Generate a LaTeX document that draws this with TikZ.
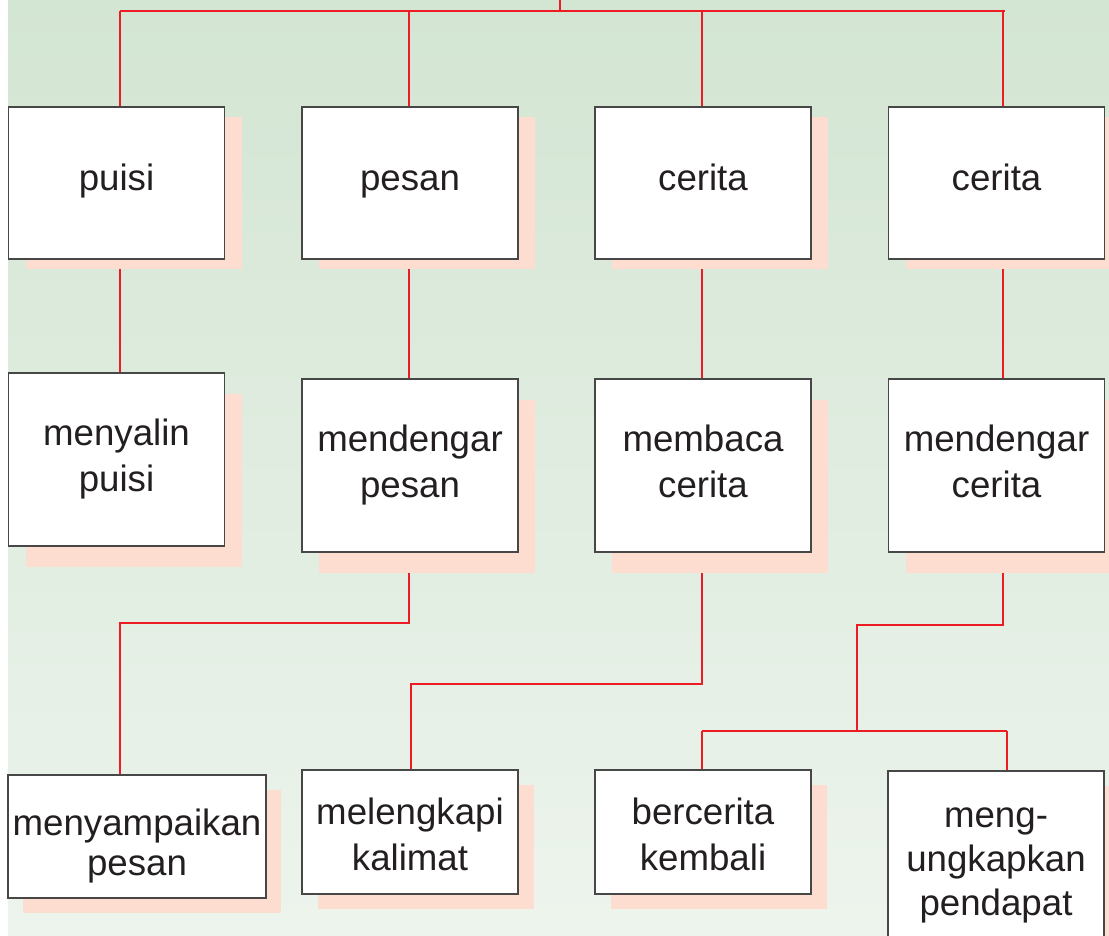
\documentclass[tikz,border=0pt]{standalone}
\usepackage{fontspec}
\setmainfont{Liberation Sans}
\usetikzlibrary{shadows,backgrounds}

\definecolor{hijautua}{RGB}{211,229,211}
\definecolor{hijaumuda}{RGB}{237,244,237}
\definecolor{merah}{RGB}{237,28,36}
\definecolor{merahmuda}{RGB}{252,221,208}
\definecolor{tinta}{RGB}{35,31,32}

\tikzset{
  kotak/.style={draw=black!72, line width=1.1pt, fill=white, text=tinta, align=center,
    inner sep=0pt, font=\fontsize{27.5}{34.5}\selectfont},
  letak/.style 2 args={text height=#1, text depth=#2},
  bayang/.style 2 args={general shadow={fill=merahmuda, shadow xshift=#1, shadow yshift=#2}},
  garis/.style={draw=merah, line width=2.1pt},
}

\begin{document}
\begin{tikzpicture}[x=0.75pt,y=0.75pt,yscale=-1,xscale=1]
\useasboundingbox (0,0) rectangle (1109,935);
\clip (0,0) rectangle (1109,935);

% baris pertama
\node [kotak, letak={20pt}{9.5pt}, bayang={12.75pt}{-7.5pt}, minimum width=162pt, minimum height=114pt] (puisi) at (116.5,183) {puisi};
\node [kotak, letak={20pt}{9.5pt}, bayang={12.75pt}{-7.5pt}, minimum width=162pt, minimum height=114pt] (pesan) at (410,183) {pesan};
\node [kotak, letak={20pt}{9.5pt}, bayang={12.75pt}{-7.5pt}, minimum width=162pt, minimum height=114pt] (cerita) at (703,183) {cerita};
\node [kotak, letak={20pt}{9.5pt}, bayang={12.75pt}{-7.5pt}, minimum width=162pt, minimum height=114pt] (ceritadua) at (996.5,183) {cerita};

% baris kedua
\node [kotak, letak={57.25pt}{10pt}, bayang={12.75pt}{-15.75pt}, minimum width=162pt, minimum height=129.75pt] (menyalin) at (116.5,459.5) {menyalin\\puisi};
\node [kotak, letak={57.25pt}{10pt}, bayang={12.75pt}{-15.75pt}, minimum width=162pt, minimum height=129.75pt] (dengarpesan) at (410,465.5) {mendengar\\pesan};
\node [kotak, letak={57.25pt}{10pt}, bayang={12.75pt}{-15.75pt}, minimum width=162pt, minimum height=129.75pt] (membaca) at (703,465.5) {membaca\\cerita};
\node [kotak, letak={57.25pt}{10pt}, bayang={12.75pt}{-15.75pt}, minimum width=162pt, minimum height=129.75pt] (dengarcerita) at (996.5,465.5) {mendengar\\cerita};

% baris ketiga
\node [kotak, font=\fontsize{27.5}{30}\selectfont, letak={62.75pt}{5pt}, bayang={11pt}{-11.25pt}, minimum width=193.5pt, minimum height=92.25pt] (sampaikan) at (137,836.5) {menyampaikan\\pesan};
\node [kotak, letak={62pt}{5pt}, bayang={12pt}{-11.25pt}, minimum width=162pt, minimum height=93pt] (lengkapi) at (410,832) {melengkapi\\kalimat};
\node [kotak, letak={62pt}{5pt}, bayang={12pt}{-11.25pt}, minimum width=162pt, minimum height=93pt] (bercerita) at (703,832) {bercerita\\kembali};
\node [kotak, font=\fontsize{27.5}{33}\selectfont, letak={80pt}{3.5pt}, bayang={12pt}{-11.25pt}, minimum width=162pt, minimum height=139.5pt] (ungkap) at (996,864) {meng-\\ungkapkan\\pendapat};

% titik cabang
\coordinate (akar) at (560,0);
\coordinate (ta) at (120,11);
\coordinate (tb) at (409,11);
\coordinate (tc) at (702,11);
\coordinate (td) at (1003,11);
\coordinate (ja) at (120,623);
\coordinate (jb) at (411,684);
\coordinate (jc) at (857,625);
\coordinate (jd) at (857,731);
\coordinate (je) at (702,731);
\coordinate (jf) at (1007,731);

\begin{scope}[on background layer]
\fill [top color=hijautua, bottom color=hijaumuda] (8,0) rectangle (1109,935);
% garis atas
\draw [garis] (akar) -- (akar |- ta);
\draw [garis] (ta) -- ([xshift=1.5pt]td);
\draw [garis] (ta) -- (ta |- puisi.north);
\draw [garis] (tb) -- (tb |- pesan.north);
\draw [garis] (tc) -- (tc |- cerita.north);
\draw [garis] (td) -- (td |- ceritadua.north);
% baris pertama ke kedua
\draw [garis] (ta |- puisi.south) -- (ta |- menyalin.north);
\draw [garis] (tb |- pesan.south) -- (tb |- dengarpesan.north);
\draw [garis] (tc |- cerita.south) -- (tc |- membaca.north);
\draw [garis] (td |- ceritadua.south) -- (td |- dengarcerita.north);
% baris kedua ke ketiga
\draw [garis] (tb |- dengarpesan.south) |- (ja) -- (ja |- sampaikan.north);
\draw [garis] (tc |- membaca.south) |- (jb) -- (jb |- lengkapi.north);
\draw [garis] (td |- dengarcerita.south) |- (jc) -- (jd);
\draw [garis] (je) -- (jf);
\draw [garis] (je) -- (je |- bercerita.north);
\draw [garis] (jf) -- (jf |- ungkap.north);
\end{scope}

\end{tikzpicture}
\end{document}
